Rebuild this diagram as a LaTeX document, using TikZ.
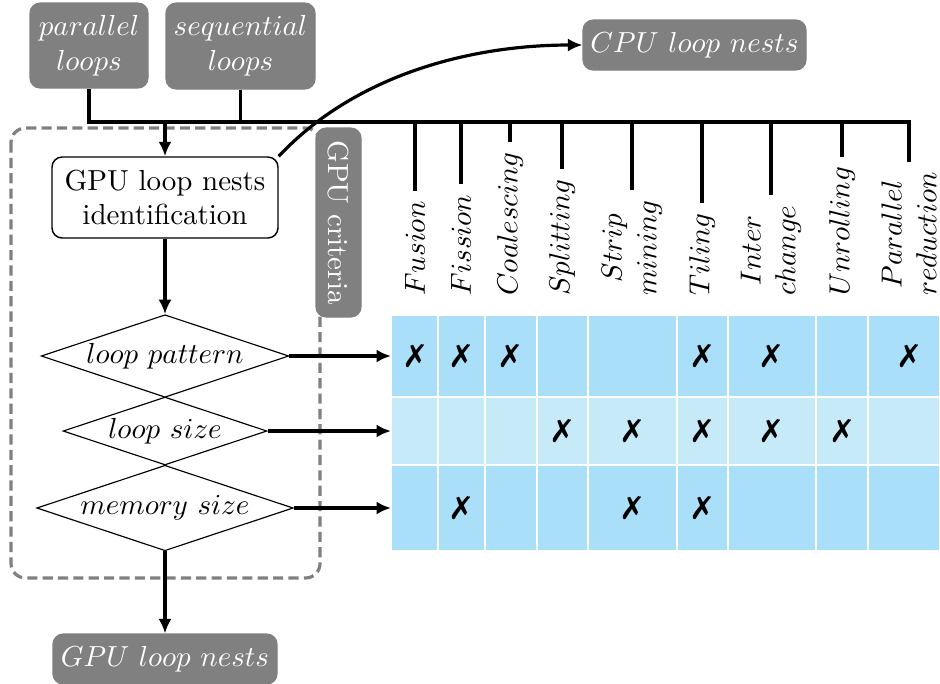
\documentclass[tikz,border=0pt]{standalone}
\usepackage{pifont}
\usetikzlibrary{shapes.geometric,arrows.meta}
\definecolor{cellA}{RGB}{170,223,249}
\definecolor{cellB}{RGB}{199,234,249}
\definecolor{boxgray}{RGB}{128,128,128}
\newcommand{\pxu}{0.345pt}
\begin{document}
\begin{tikzpicture}[x=0.345pt,y=-0.345pt,
  graybox/.style={fill=boxgray, draw=boxgray, rounded corners=3.5pt, text=white, align=center, inner sep=0pt},
  conn/.style={line width=1.1pt},
  arr/.style={line width=1.1pt,-{Latex[length=5pt,width=4.5pt]}},
  test/.style={draw, diamond, aspect=3, inner sep=0.57pt, line width=0.4pt},
  lbl/.style={rotate=90, anchor=west, align=center},
  xmk/.style={inner sep=0pt, font=\fontsize{11}{13}\selectfont},
  cellrow/.style={draw=white, line width=0.45pt},
]
\useasboundingbox (0,0) rectangle (940,683);

% dashed frame around the GPU criteria
\draw[boxgray, line width=1.1pt, dash pattern=on 3.5pt off 1.8pt, rounded corners=5pt]
  (11,128) rectangle (320,578);

% inputs and outputs
\node[graybox, minimum width=118*\pxu, minimum height=85*\pxu] (par) at (89,45.5) {$parallel$\\$loops$};
\node[graybox, minimum width=149*\pxu, minimum height=86*\pxu] (seq) at (240.5,46) {$sequential$\\$loops$};
\node[graybox, minimum width=223*\pxu, minimum height=50*\pxu] (cpu) at (694.5,45) {$CPU\ loop\ nests$};
\node[graybox, minimum width=224*\pxu, minimum height=50*\pxu] (gpuout) at (165,659) {$GPU\ loop\ nests$};

% identification and tests
\node[draw, rounded corners=3.5pt, fill=white, align=center, line width=0.5pt,
      minimum width=226*\pxu, minimum height=81*\pxu, inner sep=0pt] (gpuid) at (165,197.5)
      {GPU loop nests\\identification};
\node[test] (lp) at (165,356) {$loop\ pattern$};
\node[test] (ls) at (165,431) {$loop\ size$};
\node[test] (ms) at (165,508) {$memory\ size$};

% transformation labels
\node[lbl] (fusion) at (415,306) {$Fusion$};
\node[lbl] (fission) at (461,306) {$Fission$};
\node[lbl] (coal) at (510,306) {$Coalescing$};
\node[lbl] (split) at (562,306) {$Splitting$};
\node[lbl] (strip) at (632,306) {$Strip$\\$mining$};
\node[lbl] (tiling) at (702,306) {$Tiling$};
\node[lbl] (inter) at (771,306) {$Inter$\\$change$};
\node[lbl] (unroll) at (842,306) {$Unrolling$};
\node[lbl] (red) at (909,306) {$Parallel$\\$reduction$};

\coordinate (bar) at (0,122);
\coordinate (tabL) at (391,315);
\coordinate (rowA) at (0,356);
\coordinate (rowB) at (0,431);
\coordinate (rowC) at (0,508);

% distribution bar
\draw[conn] (par.south) |- (red.east |- bar) -- (red.east);
\draw[conn] (seq.south) -- (seq.south |- bar);
\foreach \n in {fusion,fission,coal,split,strip,tiling,inter,unroll}
  \draw[conn] (\n.east |- bar) -- (\n.east);
\draw[arr] (gpuid.north |- bar) -- (gpuid.north);

% applicability table
\foreach \xa/\xb in {391/438,438/485,485/537,537/588,588/677,677/728,728/816,816/868,868/940} {
  \path[cellrow, fill=cellA] (\xa,315) rectangle (\xb,397);
  \path[cellrow, fill=cellB] (\xa,397) rectangle (\xb,465);
  \path[cellrow, fill=cellA] (\xa,465) rectangle (\xb,551);
}
\foreach \n in {fusion,fission,coal,tiling,inter,red}
  \node[xmk] at (\n.east |- rowA) {\ding{55}};
\foreach \n in {split,strip,tiling,inter,unroll}
  \node[xmk] at (\n.east |- rowB) {\ding{55}};
\foreach \n in {fission,strip,tiling}
  \node[xmk] at (\n.east |- rowC) {\ding{55}};

% flow
\draw[arr] (gpuid.south) -- (lp.north);
\draw[arr] (ms.south) -- (gpuout.north);
\draw[arr] (lp.east) -- (lp.east -| tabL);
\draw[arr] (ls.east) -- (ls.east -| tabL);
\draw[arr] (ms.east) -- (ms.east -| tabL);
\draw[arr] (gpuid.north east) .. controls (355,75) and (470,45) .. (cpu.west);

\node[graybox, rotate=-90, minimum width=189*\pxu, minimum height=45*\pxu] (crit) at (338.5,222.5) {GPU criteria};
\end{tikzpicture}
\end{document}
